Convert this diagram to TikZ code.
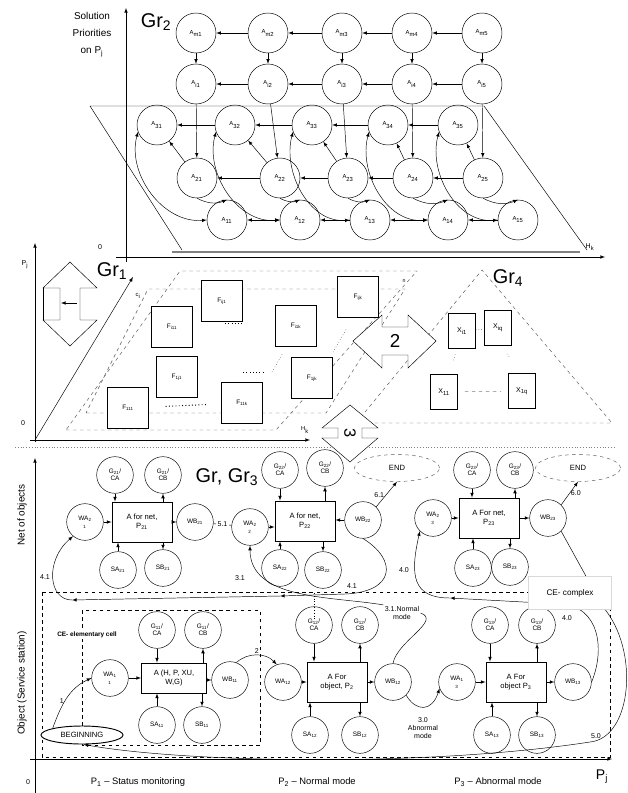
\documentclass[tikz,border=0pt]{standalone}
\usepackage{fontspec}
\setmainfont{Liberation Sans}
\usetikzlibrary{arrows.meta,positioning,shapes.geometric}
\newcommand{\sbs}[1]{\textsubscript{#1}}

\begin{document}
\begin{tikzpicture}[x=0.03cm,y=-0.03cm,
  acirc/.style={circle,draw,minimum size=1.2cm,inner sep=0pt,font=\fontsize{5}{6}\selectfont},
  ocirc/.style={circle,draw,minimum size=1.1cm,inner sep=0pt,align=center,font=\fontsize{5.5}{6}\selectfont},
  fbox/.style={rectangle,draw,thick,fill=white,minimum width=1.25cm,minimum height=1.22cm,font=\fontsize{5.5}{6}\selectfont},
  xbox/.style={rectangle,draw,thick,fill=white,minimum width=0.8cm,minimum height=1.05cm,inner sep=0pt,font=\fontsize{6}{7}\selectfont},
  abox/.style={rectangle,draw,thick,fill=white,minimum width=1.8cm,minimum height=1.2cm,align=center,font=\fontsize{6.5}{7.5}\selectfont},
  oval/.style={ellipse,draw,fill=white,inner sep=1pt,minimum width=2.55cm,minimum height=0.81cm,font=\fontsize{6.5}{7}\selectfont},
  big/.style={font=\fontsize{17}{18}\selectfont},
  lbl/.style={font=\fontsize{6}{7}\selectfont,inner sep=1pt},
  grdash/.style={dashed,draw=black!65},
  arrow/.style={->,>=latex},
  arrows2/.style={<->,>=latex},
  ]
\useasboundingbox (0,0) rectangle (628,793);

% Gr2 -- solution priorities
\draw[arrow] (126,262) -- (126,8);
\draw[arrow] (116,257) -- (605,257);
\node[font=\fontsize{8.5}{14.5}\selectfont,align=center] (prio) at (92,35) {Solution\\Priorities\\on P\sbs{j}};
\node[big] (gr2) at (156,22) {Gr\sbs{2}};
\node[lbl] (zero2) at (100,247) {0};
\node[lbl] (hk2) at (590,247) {H\sbs{k}};
\draw (182,250) -- (90,106) -- (484,106) -- (587,250);
\draw[gray,line width=1.2pt] (172,252) -- (580,252);

\foreach \c/\x in {1/196,2/268,3/342,4/412,5/482}{
  \node[acirc] (g1\c) at (\x,33) {A\sbs{m\c}};
  \node[acirc] (g2\c) at (\x,84) {A\sbs{i\c}};
}
\foreach \c/\x/\u/\v in {1/157/197/227,2/235/280/300,3/312/348/370,4/388/413/448,5/458/483/518}{
  \node[acirc] (g3\c) at (\x,125) {A\sbs{3\c}};
  \node[acirc] (g4\c) at (\u,178) {A\sbs{2\c}};
  \node[acirc] (g5\c) at (\v,220) {A\sbs{1\c}};
}
\foreach \c [count=\p] in {2,...,5}{
  \draw[arrow] (g1\c) -- (g1\p);
  \draw[arrow] (g2\c) -- (g2\p);
  \draw[arrow] (g3\c) -- (g3\p);
  \draw[arrow] (g4\c) -- (g4\p);
}
\draw[arrows2] (g52) -- (g51);
\draw[arrow] (g53) -- (g52);
\draw[arrows2] (g54) -- (g53);
\draw[arrow] (g55) -- (g54);
\foreach \c in {1,...,5}{
  \draw[arrow] (g1\c) -- (g2\c);
  \draw[arrow] (g2\c) -- (g4\c);
  \draw[arrow] (g4\c) -- (g3\c);
  \draw[arrow] (g4\c.south) to[bend right=25] (g5\c.north);
  \draw[arrows2] (g3\c.200) to[out=255,in=185] (g5\c.west);
}

% Gr1 and Gr4
\coordinate (org1) at (35,440);
\draw[arrow] (35,442) -- (35,243);
\draw[arrow] (30,440) -- (310,440);
\node[lbl] (pj1) at (25,265) {P\sbs{j}};
\node[lbl] (zero1) at (23,423) {0};
\node[font=\fontsize{5}{6}\selectfont] (hk1) at (305,430) {H\sbs{k}};
\draw[arrow] (org1) -- (133,277);
\node[font=\fontsize{5}{6}\selectfont] (ci) at (138,296) {c\sbs{i}};
\node[big] (gr1) at (112,271) {Gr\sbs{1}};
\draw (70,262) -- (97,288) -- (80,288) -- (80,320) -- (97,320) -- (70,346)
  -- (43,320) -- (60,320) -- (60,288) -- (43,288) -- cycle;
\draw (43,288) -- (43,320);
\draw[arrow] (77,303) -- (61,303);

\draw[grdash] (66,430) -- (276,430) -- (417,271) -- (180,271) -- cycle;
\draw[grdash] (86,413) -- (326,413) -- (405,289) -- (148,289) -- cycle;
\node[font=\fontsize{4.5}{5}\selectfont] (nlab) at (404,281) {n};

\node[fbox] (f111) at (128,408) {F\sbs{111}};
\node[fbox] (fi11) at (172,327) {F\sbs{i11}};
\node[fbox] (f1j1) at (177,377) {F\sbs{1j1}};
\node[fbox] (fij1) at (222,301) {F\sbs{ij1}};
\node[fbox] (f11k) at (242,403) {F\sbs{11k}};
\node[fbox] (fi1k) at (296,326) {F\sbs{i1k}};
\node[fbox] (f1jk) at (312,378) {F\sbs{1jk}};
\node[fbox] (fijk) at (358,297) {F\sbs{ijk}};
\draw[dotted,thick,shorten <=14pt,shorten >=12pt] (f111) -- (f11k);
\draw[dotted,thick] (243,372) -- (265,372);
\draw[dotted,thick] (225,323) -- (243,323);
\draw[dotted] (272,372) -- (283,353);
\draw[dotted] (333,352) -- (347,328);

\draw[grdash] (356,423) -- (482,270) -- (612,423) -- cycle;
\node[big] (gr4) at (508,278) {Gr\sbs{4}};
\node[xbox] (xi1) at (462,331) {X\sbs{i1}};
\node[xbox] (xiq) at (498,328) {X\sbs{iq}};
\node[xbox] (x11) at (444,392) {X\sbs{11}};
\node[xbox] (x1q) at (522,391) {X\sbs{1q}};
\draw[dotted] (xi1) -- (xiq);
\draw[dashed,black!50,shorten <=6pt,shorten >=6pt] (x11) -- (x1q);
\draw[dotted,shorten <=10pt,shorten >=18pt] (xi1) -- (x11);
\draw[dotted,shorten <=10pt,shorten >=18pt] (xiq) -- (x1q);

\draw[dotted,gray] (15,447) -- (615,447);

\draw[fill=white] (353,341) -- (382,315) -- (382,327) -- (408,327) -- (408,315) -- (436,341)
  -- (408,368) -- (408,355) -- (382,355) -- (382,368) -- cycle;
\node[font=\fontsize{16}{17}\selectfont] (two) at (395,341) {2};
\draw[fill=white] (350,405) -- (378,428) -- (362,428) -- (362,438) -- (378,438) -- (350,462)
  -- (322,438) -- (338,438) -- (338,428) -- (322,428) -- cycle;
\node[font=\fontsize{14}{15}\selectfont,rotate=-90] (three) at (350,433) {3};

% Gr, Gr3 -- net of objects and objects
\draw[arrow] (35,793) -- (35,458);
\draw[arrow] (30,759) -- (612,759);
\node[lbl] (zero3) at (28,782) {0};
\node[font=\fontsize{12}{13}\selectfont] (pjb) at (602,777) {P\sbs{j}};
\node[font=\fontsize{8.5}{9}\selectfont,rotate=90] (netlab) at (22,515) {Net of objects};
\node[font=\fontsize{8.5}{9}\selectfont,rotate=90] (objlab) at (22,683) {Object (Service station)};
\node[font=\fontsize{8}{9}\selectfont] (p1) at (138,782) {P\sbs{1} -- Status monitoring};
\node[font=\fontsize{8}{9}\selectfont] (p2) at (317,782) {P\sbs{2} -- Normal mode};
\node[font=\fontsize{8}{9}\selectfont] (p3) at (498,782) {P\sbs{3} -- Abnormal mode};
\node[big] (gr3) at (227,477) {Gr, Gr\sbs{3}};

\draw[dashed] (42,592) rectangle (610,757);
\draw[dashed] (82,610) rectangle (260,745);
\draw[dotted] (314,593) -- (314,620);

\node[abox] (n1box) at (142,522) {A for net,\\P\sbs{21}};
\node[ocirc] (n1ga) at (115,475) {G\sbs{21}/\\CA};
\node[ocirc] (n1gb) at (163,475) {G\sbs{21}/\\CB};
\node[ocirc] (n1wa) at (85,522) {WA\sbs{2}\\\sbs{1}};
\node[ocirc] (n1wb) at (195,522) {WB\sbs{21}};
\node[ocirc] (n1sa) at (118,570) {SA\sbs{21}};
\node[ocirc] (n1sb) at (163,568) {SB\sbs{21}};

\node[abox] (n2box) at (305,521) {A for net,\\P\sbs{22}};
\node[ocirc] (n2ga) at (280,470) {G\sbs{22}/\\CA};
\node[ocirc] (n2gb) at (325,468) {G\sbs{22}/\\CB};
\node[ocirc] (n2wa) at (250,527) {WA\sbs{2}\\\sbs{2}};
\node[ocirc] (n2wb) at (363,520) {WB\sbs{22}};
\node[ocirc] (n2sa) at (280,568) {SA\sbs{22}};
\node[ocirc] (n2sb) at (323,570) {SB\sbs{22}};
\node[oval,grdash] (end1) at (397,468) {END};

\node[abox] (n3box) at (489,518) {A For net,\\P\sbs{23}};
\node[ocirc] (n3ga) at (472,470) {G\sbs{23}/\\CA};
\node[ocirc] (n3gb) at (515,470) {G\sbs{23}/\\CB};
\node[ocirc] (n3wa) at (433,518) {WA\sbs{2}\\\sbs{3}};
\node[ocirc] (n3wb) at (548,518) {WB\sbs{23}};
\node[ocirc] (n3sa) at (473,568) {SA\sbs{23}};
\node[ocirc] (n3sb) at (510,567) {SB\sbs{23}};
\node[oval,grdash] (end2) at (578,468) {END};

\node[abox,minimum width=1.95cm,minimum height=0.9cm] (b1box) at (174,678) {A (H, P, XU,\\W,G)};
\node[ocirc] (b1ga) at (157,630) {G\sbs{11}/\\CA};
\node[ocirc] (b1gb) at (203,630) {G\sbs{11}/\\CB};
\node[ocirc] (b1wa) at (110,678) {WA\sbs{1}\\\sbs{1}};
\node[ocirc] (b1wb) at (230,680) {WB\sbs{11}};
\node[ocirc] (b1sa) at (157,725) {SA\sbs{11}};
\node[ocirc] (b1sb) at (202,725) {SB\sbs{11}};
\node[oval,thick,minimum width=2.46cm,minimum height=0.54cm] (begin) at (82,735) {BEGINNING};
\node[fill=white,font=\bfseries\fontsize{5.5}{6}\selectfont,inner sep=1pt] (cecell) at (87,635) {CE- elementary cell};

\node[abox] (b2box) at (337,682) {A For\\object, P\sbs{2}};
\node[ocirc] (b2ga) at (314,625) {G\sbs{12}/\\CA};
\node[ocirc] (b2gb) at (360,625) {G\sbs{12}/\\CB};
\node[ocirc] (b2wa) at (283,682) {WA\sbs{12}};
\node[ocirc] (b2wb) at (393,682) {WB\sbs{12}};
\node[ocirc] (b2sa) at (310,735) {SA\sbs{12}};
\node[ocirc] (b2sb) at (360,735) {SB\sbs{12}};

\node[abox] (b3box) at (516,682) {A For\\object P\sbs{3}};
\node[ocirc] (b3ga) at (490,625) {G\sbs{13}/\\CA};
\node[ocirc] (b3gb) at (537,625) {G\sbs{13}/\\CB};
\node[ocirc] (b3wa) at (457,682) {WA\sbs{1}\\\sbs{3}};
\node[ocirc] (b3wb) at (573,682) {WB\sbs{13}};
\node[ocirc] (b3sa) at (492,735) {SA\sbs{13}};
\node[ocirc] (b3sb) at (537,735) {SB\sbs{13}};

\foreach \b in {n1,n2,n3,b1,b2,b3}{
  \draw[arrow] (\b ga) -- (\b ga |- \b box.north);
  \draw[arrow] (\b gb |- \b box.north) -- (\b gb);
  \draw[arrow] (\b sa) -- (\b sa |- \b box.south);
  \draw[arrow] (\b sb |- \b box.south) -- (\b sb);
  \draw[arrow] (\b wa) -- (\b wa -| \b box.west);
}
\foreach \b in {n1,n3,b1,b2,b3}
  \draw[arrow] (\b wb -| \b box.east) -- (\b wb);
\draw[arrow] (n2wb) -- (n2wb -| n2box.east);

% modes
\draw[arrow] (begin.north west) to[out=70,in=205] node[lbl,left,pos=0.45] {1} (b1wa.west);
\draw[arrow] (b1wb.70) to[bend left=45] node[lbl,above] {2} (b2wa.110);
\draw (n1wb) -- node[lbl,fill=white] {5.1} (n2wa);
\draw[arrow] (n2wb.north east) -- node[lbl,left,pos=0.45] {6.1} (end1.south);
\draw[arrow] (n3wb.north east) -- node[lbl,right,pos=0.5] {6.0} (end2.south);

\node[lbl,align=center] (n31) at (402,613) {3.1.Normal\\mode};
\draw (b2wb.north) to[out=80,in=-20] (n31.east);
\draw[arrow] (n31.north west) .. controls (330,596) and (250,600) .. (n2wa.south);
\node[lbl] (l31) at (240,578) {3.1};

\node[lbl,align=center] (n30) at (423,728) {3.0\\Abnormal\\mode};
\draw[arrow] (b2wb.south east) .. controls (416,712) and (432,712) .. (b3wa.200);

\coordinate (k41a) at (280,596);
\coordinate (k41b) at (72,600);
\draw[arrow] (n2wb.south) .. controls (398,560) and (395,592) .. (345,594) -- (k41a);
\draw[arrow] (k41a) -- (k41b);
\draw[arrow] (k41b) .. controls (48,600) and (45,560) .. (n1wa.230);
\node[lbl] (l41a) at (352,586) {4.1};
\node[lbl] (l41b) at (45,577) {4.1};

\coordinate (k40) at (450,598);
\draw[arrow] (b3wb.east) .. controls (605,650) and (600,606) .. (560,604) -- (k40);
\draw[arrow] (k40) .. controls (412,598) and (410,575) .. (n3wa.south west);
\node[lbl] (l40a) at (567,618) {4.0};
\node[lbl] (l40b) at (404,570) {4.0};

\draw[arrow] (n3wb.south east) -- (603,607) .. controls (640,650) and (632,738) .. (590,742)
  .. controls (420,768) and (180,762) .. (begin.-80);
\node[lbl] (l50) at (596,736) {5.0};

\node[fill=white,draw=black!15,minimum width=2.5cm,minimum height=1cm,font=\fontsize{7}{8}\selectfont] (cecx) at (570,593) {CE- complex};
\end{tikzpicture}
\end{document}
